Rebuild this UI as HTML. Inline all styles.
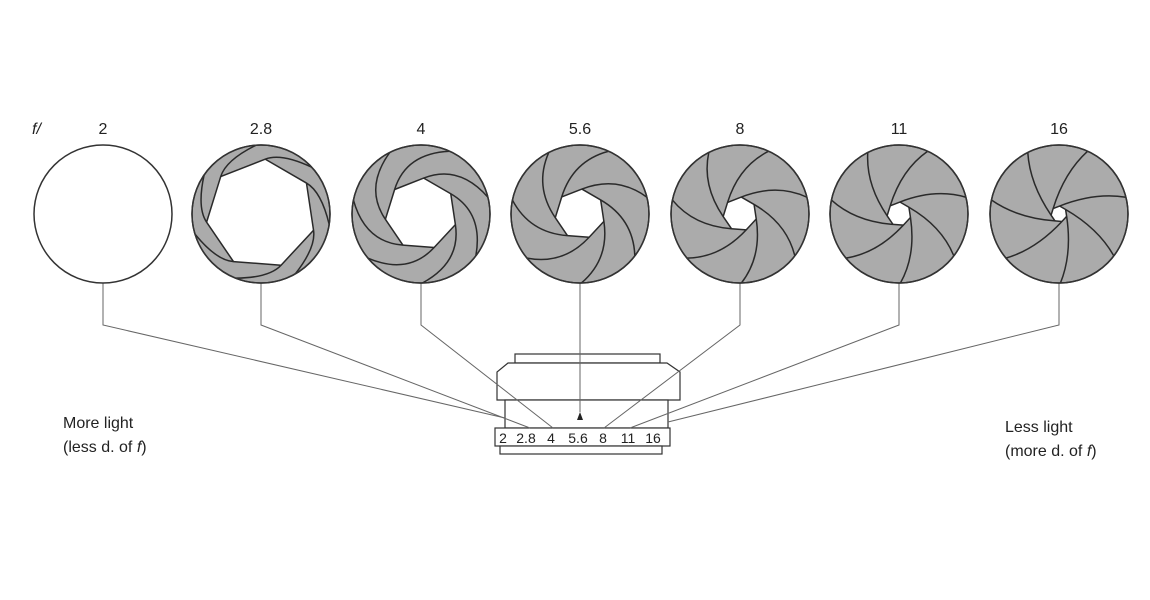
<!DOCTYPE html>
<html><head><meta charset="utf-8"><style>
html,body{margin:0;padding:0;background:#fff;width:1150px;height:600px;overflow:hidden}
svg text{font-family:"Liberation Sans",sans-serif;fill:#222}
</style></head><body>
<svg id="s" width="1150" height="600" viewBox="0 0 1150 600" xmlns="http://www.w3.org/2000/svg">
<g stroke="#333" stroke-width="1.2" fill="#fff">
<rect x="515" y="354" width="145" height="9"/>
<path d="M508,363 L667,363 L680,372 L680,400 L497,400 L497,372 Z"/>
<rect x="505" y="400" width="163" height="28"/>
<rect x="495" y="428" width="175" height="18"/>
<rect x="500" y="446" width="162" height="8"/>
</g>
<g stroke="#666" stroke-width="1" fill="none">
<polyline points="103,283 103,325 505,418"/>
<polyline points="261,283 261,325 530,428"/>
<polyline points="421,283 421,325 553,428"/>
<line x1="580" y1="283" x2="580" y2="412"/>
<polyline points="740,283 740,325 604,428"/>
<polyline points="899,283 899,325 630,428"/>
<polyline points="1059,283 1059,325 668,422"/>
</g>
<path d="M580,412 L577,420 L583,420 Z" fill="#222"/>
<g font-size="14" text-anchor="middle">
<text x="503" y="443">2</text><text x="526" y="443">2.8</text><text x="551" y="443">4</text>
<text x="578" y="443">5.6</text><text x="603" y="443">8</text><text x="628" y="443">11</text><text x="653" y="443">16</text>
</g>
<g font-size="16" text-anchor="middle">
<text x="103" y="134">2</text><text x="261" y="134">2.8</text><text x="421" y="134">4</text>
<text x="580" y="134">5.6</text><text x="740" y="134">8</text><text x="899" y="134">11</text><text x="1059" y="134">16</text>
</g>
<text x="32" y="134" font-size="16" font-style="italic">f/</text>
<g font-size="16">
<text x="63" y="428">More light</text><text x="63" y="452">(less d. of <tspan font-style="italic">f</tspan>)</text>
<text x="1005" y="432">Less light</text><text x="1005" y="456">(more d. of <tspan font-style="italic">f</tspan>)</text>
</g>
<g id="irises"></g>
</svg>
<script>
var g=document.getElementById('irises'),ns='http://www.w3.org/2000/svg';
var cx=[103,261,421,580,740,899,1059],cy=214,R=69,ri=[0,55,36,25,17,12,8];
function el(t,a){var e=document.createElementNS(ns,t);for(var k in a)e.setAttribute(k,a[k]);g.appendChild(e);return e;}
for(var k=0;k<7;k++){
 var x=cx[k];
 if(k==0){el('circle',{cx:x,cy:cy,r:R,fill:'#fff',stroke:'#333','stroke-width':1.5});continue;}
 el('circle',{cx:x,cy:cy,r:R,fill:'#ababab',stroke:'#333','stroke-width':1.5});
 var n=7,r=ri[k],pts=[];
 for(var i=0;i<n;i++){var a=i*2*Math.PI/n+0.3;pts.push([x+r*Math.cos(a),cy+r*Math.sin(a)]);}
 el('polygon',{points:pts.map(p=>p.join(',')).join(' '),fill:'#fff'});
 for(var i=0;i<n;i++){
  var a=i*2*Math.PI/n+0.3,p=pts[i],b=pts[(i+n-1)%n];
  var dx=p[0]-b[0],dy=p[1]-b[1],L=Math.hypot(dx,dy);dx/=L;dy/=L;
  var ea=a+(k==1?0.75:1.25);
  var ex=x+R*Math.cos(ea),ey=cy+R*Math.sin(ea);
  var cl=(k==1?0.25:0.55)*R;
  var qx=p[0]+dx*cl,qy=p[1]+dy*cl;
  el('path',{d:'M'+b[0]+','+b[1]+' L'+p[0]+','+p[1]+' Q'+qx+','+qy+' '+ex+','+ey,fill:'none',stroke:'#2a2a2a','stroke-width':1.5});
 }
 el('circle',{cx:x,cy:cy,r:R,fill:'none',stroke:'#333','stroke-width':1.5});
}
</script>
</body></html>
